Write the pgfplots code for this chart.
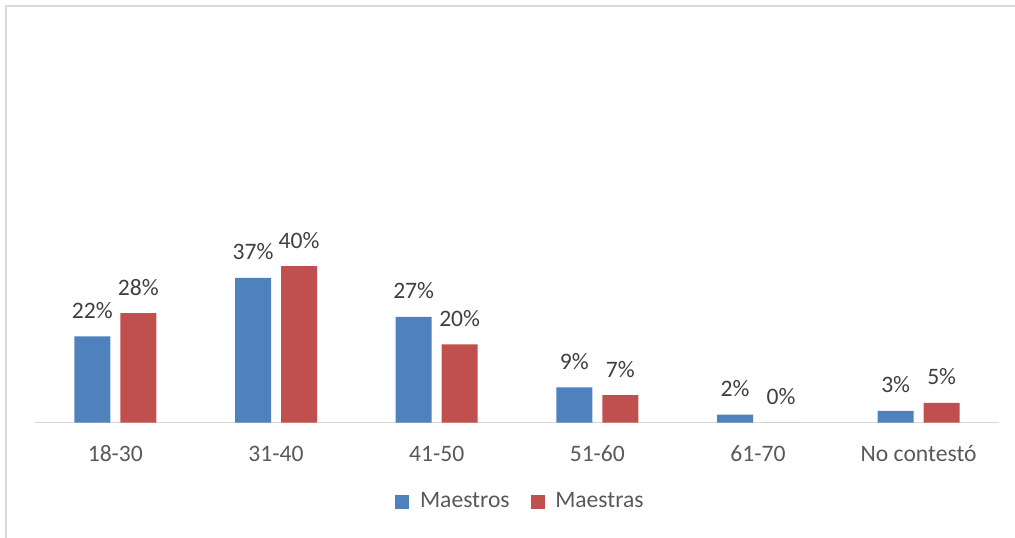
\documentclass[border=0pt]{standalone}
\usepackage{fontspec}
\setmainfont{Carlito}
\usepackage{pgfplots}
\pgfplotsset{compat=1.18}

\definecolor{azul}{HTML}{4F81BD}
\definecolor{rojo}{HTML}{C0504D}
\definecolor{eje}{HTML}{D9D9D9}
\definecolor{gristexto}{HTML}{595959}
\definecolor{grisdato}{HTML}{404040}

\begin{document}
\fontsize{11.8}{14}\selectfont
\begin{tikzpicture}
  % marco del grafico (solo se ven los bordes superior e izquierdo)
  \path[use as bounding box] (-17.5pt,-57.25pt) rectangle (490pt,211.25pt);
  \draw[eje, line width=0.85pt] (-14.5pt,-58pt) -- (-14.5pt,208.25pt) -- (491pt,208.25pt);

  \begin{axis}[
    at={(0,0)}, anchor=south west,
    scale only axis,
    width=482pt, height=195.5pt,
    ybar=5pt, bar width=18pt,
    xmin=-0.5, xmax=5.5,
    ymin=0, ymax=100,
    axis y line=none,
    axis x line*=bottom,
    x axis line style={eje, line width=0.7pt, -},
    xtick={0,...,5},
    xticklabels={18-30,31-40,41-50,51-60,61-70,No contestó},
    major tick length=0pt,
    xticklabel style={anchor=base, yshift=-19.6pt, inner sep=0pt, text=gristexto},
    /pgf/number format/assume math mode=true,
    nodes near coords={\pgfmathprintnumber{\pgfplotspointmeta}\%},
    every node near coord/.append style={anchor=base, inner sep=0pt, yshift=9pt, text=grisdato},
    point meta=y,
    legend columns=2,
    legend style={at={(0.5047,-0.2033)}, anchor=center, draw=none, fill=none,
      inner sep=0pt, text=gristexto,
      /tikz/every even column/.append style={column sep=8.5pt}},
    legend image code/.code={\fill[#1] (0pt,-3.5pt) rectangle (7pt,3.5pt);
      \path (10.3pt,0pt);},
  ]
    \addplot[fill=azul, draw=none] coordinates {
      (0,22) (1,37) (2,27) (3,9) (4,2) (5,3)};
    \addplot[fill=rojo, draw=none] coordinates {
      (0,28) (1,40) (2,20) (3,7) (4,0) (5,5)};
    \legend{Maestros, Maestras}
  \end{axis}
\end{tikzpicture}
\end{document}
